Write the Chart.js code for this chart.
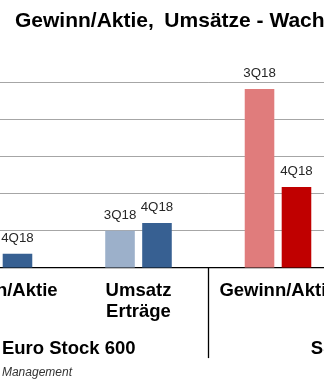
<!DOCTYPE html>
<html>
<head>
<meta charset="utf-8">
<script src="https://cdn.jsdelivr.net/npm/chart.js@4.4.0/dist/chart.umd.min.js"></script>
<style>
  html, body { margin: 0; padding: 0; background: #fff; }
  #wrap { position: relative; width: 324px; height: 385px; overflow: hidden; }
  #box { position: absolute; left: -100px; top: 0; width: 640px; height: 385px; }
  #title { position: absolute; left: 15px; top: 9px; font: bold 21px/21px "Liberation Sans", Arial, sans-serif; white-space: nowrap; color: #000; }
  #source { position: absolute; right: 252px; top: 366px; font: italic 12px/12px "Liberation Sans", Arial, sans-serif; white-space: nowrap; color: #333; }
</style>
</head>
<body>
<div id="wrap">
  <div id="box"><canvas id="chart"></canvas></div>
  <div id="title">Gewinn/Aktie,&ensp;Umsätze - Wachstum</div>
  <div id="source">Quelle: Asset Management</div>
</div>
<script>
const categories = [['Gewinn/Aktie'], ['Umsatz', 'Erträge'], ['Gewinn/Aktie'], ['Umsatz', 'Erträge']];
const groups = ['Euro Stock 600', 'S&P 500'];
const seriesNames = ['3Q18', '4Q18'];
const q3Values = [0.6, 1.0, 4.81, 1.9];
const q4Values = [0.38, 1.21, 2.18, 1.6];

const q3Colors = ['#9cb0ca', '#9cb0ca', '#e07c7c', '#e07c7c'];
const q4Colors = ['#376092', '#376092', '#c00000', '#c00000'];

const fontFamily = '"Liberation Sans", Arial, sans-serif';
Chart.defaults.font.family = fontFamily;

// label above every bar with its quarter
const barLabels = {
  id: 'barLabels',
  afterDatasetsDraw(chart) {
    const ctx = chart.ctx;
    ctx.save();
    ctx.font = '13.3px ' + fontFamily;
    ctx.fillStyle = '#262626';
    ctx.textAlign = 'center';
    ctx.textBaseline = 'alphabetic';
    chart.data.datasets.forEach((ds, i) => {
      chart.getDatasetMeta(i).data.forEach(bar => {
        ctx.fillText(ds.label, bar.x, bar.y - 12);
      });
    });
    ctx.restore();
  }
};

// vertical separators between the index groups
const groupLines = {
  id: 'groupLines',
  afterDraw(chart) {
    const x = chart.scales.x;
    const x2 = chart.scales.x2;
    const ctx = chart.ctx;
    ctx.save();
    ctx.strokeStyle = '#000';
    ctx.lineWidth = 1.3;
    [-0.5, 1.5, 3.5].forEach(v => {
      const px = Math.round(x.getPixelForValue(v)) + 0.5;
      ctx.beginPath();
      ctx.moveTo(px, chart.chartArea.bottom);
      ctx.lineTo(px, x2.bottom - 4.5);
      ctx.stroke();
    });
    ctx.restore();
  }
};

const ctxEl = document.getElementById('chart');

new Chart(ctxEl, {
  type: 'bar',
  data: {
    labels: categories,
    datasets: [{
      label: seriesNames[0],
      data: q3Values,
      backgroundColor: q3Colors,
      categoryPercentage: 0.53,
      barPercentage: 0.8
    }, {
      label: seriesNames[1],
      data: q4Values,
      backgroundColor: q4Colors,
      categoryPercentage: 0.53,
      barPercentage: 0.8
    }]
  },
  options: {
    responsive: true,
    maintainAspectRatio: false,
    animation: false,
    devicePixelRatio: 1,
    layout: {
      padding: { left: 29.25, right: 52.75, top: 82, bottom: 22.4 }
    },
    plugins: {
      legend: { display: false },
      title: { display: false },
      tooltip: { enabled: false }
    },
    scales: {
      x: {
        offset: true,
        z: 1,
        grid: { display: false, drawTicks: false },
        border: { display: true, color: '#000', width: 1.3 },
        ticks: {
          color: '#000',
          padding: 12,
          autoSkip: false,
          maxRotation: 0,
          font: { size: 18.5, weight: 'bold', lineHeight: 1.15 }
        }
      },
      x2: {
        type: 'category',
        labels: groups,
        position: 'bottom',
        offset: true,
        weight: 1,
        grid: { display: false, drawTicks: false },
        border: { display: false },
        ticks: {
          color: '#000',
          padding: 3.4,
          autoSkip: false,
          maxRotation: 0,
          font: { size: 18.5, weight: 'bold', lineHeight: 1.15 }
        }
      },
      y: {
        min: 0,
        max: 5,
        z: 1,
        border: { display: false },
        ticks: { display: false, stepSize: 1 },
        grid: {
          drawTicks: false,
          lineWidth: 1,
          color: c => c.tick.value === 0 ? 'rgba(0,0,0,0)' : 'rgba(0,0,0,0.35)'
        },
        afterFit: s => { s.width = 0; }
      }
    }
  },
  plugins: [barLabels, groupLines]
});
</script>
</body>
</html>
